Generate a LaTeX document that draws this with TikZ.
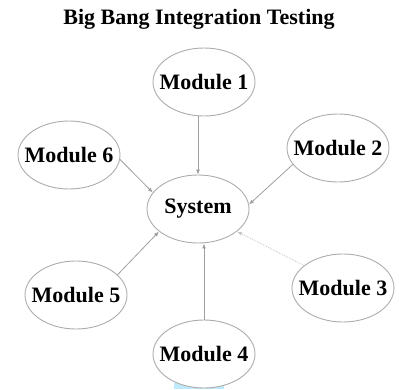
\documentclass[tikz,border=0pt]{standalone}
\usepackage{fontspec}
\setmainfont{Liberation Serif}
\usetikzlibrary{shapes.geometric,arrows.meta}
\tikzset{
  modnode/.style={ellipse, draw=gray!65, line width=0.9pt, minimum width=102pt, minimum height=68pt, inner sep=0pt, font=\fontsize{22}{26}\selectfont\bfseries},
  conn/.style={draw=gray!75, line width=0.8pt, -{Latex[length=5pt,width=4pt]}},
  faint/.style={draw=gray!45, line width=0.8pt, densely dotted, -{Latex[length=5pt,width=4pt]}},
}
\begin{document}
\begin{tikzpicture}[x=1pt,y=-1pt]
\useasboundingbox (0,0) rectangle (399,389);
\node[font=\fontsize{22}{26}\selectfont\bfseries] (title) at (199,19) {Big Bang Integration Testing};
% glow under module 4
\fill[cyan!25] (174,383) rectangle (224,389);
\node[modnode] (m1) at (204,82) {\makebox[0pt]{Module 1}};
\node[modnode] (m6) at (69,155) {\makebox[0pt]{Module 6}};
\node[modnode] (m2) at (338,148) {\makebox[0pt]{Module 2}};
\node[modnode] (sys) at (198,209) {\makebox[0pt]{System}};
\node[modnode] (m5) at (76,295) {\makebox[0pt]{Module 5}};
\node[modnode] (m3) at (343,288) {\makebox[0pt]{Module 3}};
\node[modnode, fill=white] (m4) at (204,354) {\makebox[0pt]{Module 4}};
\draw[conn] (sys.north |- m1.south) -- (sys.north);
\draw[conn] (m6.-5) -- (sys.160);
\draw[conn] (m2.200) -- (sys.5);
\draw[faint] (m3.150) -- (sys.-30);
\draw[conn] (m5.26) -- (sys.210);
\draw[conn] (m4.north) -- (m4.north |- sys.south);
\end{tikzpicture}
\end{document}
